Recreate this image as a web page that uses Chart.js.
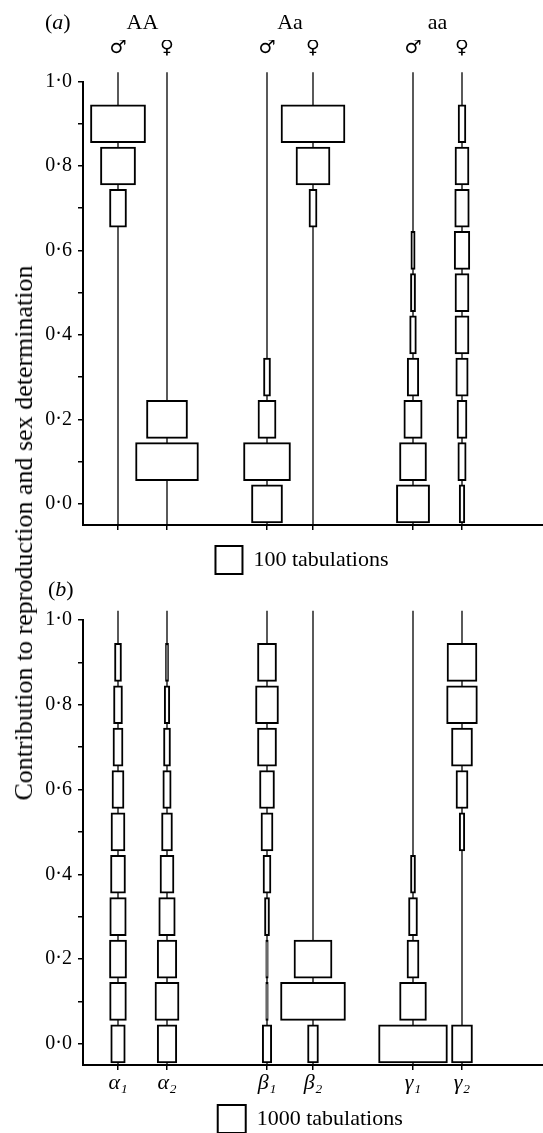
<!DOCTYPE html>
<html>
<head>
<meta charset="utf-8">
<script src="https://cdn.jsdelivr.net/npm/chart.js@4.4.0/dist/chart.umd.min.js"></script>
<style>
html, body { margin: 0; padding: 0; overflow: hidden; background: #fff; }
#wrap { position: relative; width: 543px; height: 1133px; font-family: "Liberation Serif", serif; color: #000; }
#boxA { position: absolute; left: 0; top: 0; width: 543px; height: 584px; }
#boxB { position: absolute; left: 0; top: 584px; width: 543px; height: 559px; }
.tag { position: absolute; font-size: 22px; line-height: 22px; }
#ytitle { position: absolute; left: 24px; top: 533px; font-size: 26px; white-space: nowrap;
          transform: translate(-50%, -50%) rotate(-90deg); }
</style>
</head>
<body>
<div id="wrap">
  <div id="boxA"><canvas id="chartA"></canvas></div>
  <div id="boxB"><canvas id="chartB"></canvas></div>
  <div class="tag" style="left:45px;top:11px">(<i>a</i>)</div>
  <div class="tag" style="left:48px;top:578px">(<i>b</i>)</div>
  <div id="ytitle">Contribution to reproduction and sex determination</div>
</div>
<script>
// contribution classes, one box per class
const bins = [0, 0.1, 0.2, 0.3, 0.4, 0.5, 0.6, 0.7, 0.8, 0.9];

// (a) tabulations per class for each genotype / sex
const AAmale   = [0, 0, 0, 0, 0, 0, 0, 63, 130, 204];
const AAfemale = [0, 233, 152, 0, 0, 0, 0, 0, 0, 0];
const Aamale   = [115, 174, 67, 26, 0, 0, 0, 0, 0, 0];
const Aafemale = [0, 0, 0, 0, 0, 0, 0, 30, 126, 237];
const aamale   = [123, 100, 68, 43, 25, 19, 16, 0, 0, 0];
const aafemale = [21, 31, 37, 46, 52, 52, 58, 54, 52, 29];
const sexLabels = ['♂', '♀', '♂', '♀', '♂', '♀'];
const genotypes = ['AA', 'Aa', 'aa'];

// (b) tabulations per class for each parameter
const alpha1 = [520, 600, 610, 590, 535, 500, 430, 360, 320, 250];
const alpha2 = [700, 860, 700, 590, 500, 390, 300, 250, 200, 110];
const beta1  = [340, 90, 90, 180, 285, 430, 535, 680, 820, 680];
const beta2  = [390, 2320, 1360, 0, 0, 0, 0, 0, 0, 0];
const gamma1 = [2460, 960, 430, 320, 180, 0, 0, 0, 0, 0];
const gamma2 = [750, 0, 0, 0, 0, 200, 430, 750, 1100, 1070];
const paramLabels = ['α₁', 'α₂', 'β₁', 'β₂', 'γ₁', 'γ₂'];

Chart.defaults.font.family = 'Liberation Serif';
Chart.defaults.color = '#000';

// layout
const plotW = 460;                          // px from y axis to right edge
const colPx = [35, 84, 184, 230, 330, 379]; // column stems, px from y axis

function topAxis(xMax, at, labels, font, pad, h, weight) {
    return {
        type: 'linear', position: 'top', min: 0, max: xMax, weight: weight,
        grid: { display: false, drawTicks: false },
        border: { display: false },
        ticks: { autoSkip: false, maxRotation: 0, padding: pad, font: font, color: '#000',
                 callback: (v, i) => labels[i] },
        afterBuildTicks: s => { s.ticks = at.map(v => ({ value: v })); },
        afterFit: s => { s.height = h; }
    };
}

function makeChart(id, o) {
    const perPx = o.tabPerPx;
    const xMax = plotW * perPx;
    const centers = colPx.map(p => p * perPx);

    const boxes = [];
    o.columns.forEach((counts, c) => {
        counts.forEach((n, i) => {
            if (n > 0) boxes.push({ y: bins[i], x: [centers[c] - n / 2, centers[c] + n / 2] });
        });
    });

    const stems = centers.map(c => ({
        type: 'line',
        data: [{ x: c, y: -0.05 }, { x: c, y: 1.022 }],
        borderColor: '#000', borderWidth: 1.3,
        pointRadius: 0, clip: false, order: 1
    }));

    const scales = {
        x: {
            type: 'linear', position: 'bottom', min: 0, max: xMax,
            border: { color: '#000', width: 2 },
            grid: { drawOnChartArea: false, tickLength: 5, color: '#000', lineWidth: 1.5 },
            ticks: { autoSkip: false, maxRotation: 0, padding: 0, color: '#000',
                     font: { size: 22, style: 'italic' },
                     callback: (v, i) => o.bottomLabels[i] },
            afterBuildTicks: s => { s.ticks = centers.map(v => ({ value: v })); },
            afterFit: s => { s.height = o.bottomH; }
        },
        y: {
            type: 'linear', min: -0.05, max: 1.0, offset: false,
            border: { color: '#000', width: 2 },
            grid: { offset: false, drawOnChartArea: false, tickLength: 5, color: '#000', lineWidth: 1.5 },
            ticks: {
                stepSize: 0.1, includeBounds: false, autoSkip: false, padding: 6,
                font: { size: 20 }, color: '#000',
                callback: v => Math.round(v * 10) % 2 === 0 ? v.toFixed(1).replace('.', '·') : ''
            },
            afterFit: s => { s.width = 83; }
        }
    };
    if (o.top) {
        const groupAt = [0, 1, 2].map(g => (centers[2 * g] + centers[2 * g + 1]) / 2);
        scales.x3 = topAxis(xMax, groupAt, genotypes, { size: 22 }, 4, 40, 2);
        scales.x2 = topAxis(xMax, centers, sexLabels, { family: 'DejaVu Sans', size: 19 }, 22, 41.5, 1);
    }

    return new Chart(document.getElementById(id), {
        type: 'bar',
        data: {
            datasets: [{
                label: o.legend,
                data: boxes,
                backgroundColor: '#fff',
                borderColor: '#000',
                borderWidth: 2,
                borderSkipped: false,
                barThickness: 38,
                order: 0
            }].concat(stems)
        },
        options: {
            indexAxis: 'y',
            responsive: true,
            maintainAspectRatio: false,
            animation: false,
            events: [],
            layout: { padding: { left: 0, top: o.padTop, right: 0, bottom: 0 } },
            scales: scales,
            plugins: {
                tooltip: { enabled: false },
                legend: {
                    position: 'bottom',
                    fullSize: false,
                    labels: {
                        boxWidth: o.legendTabs / perPx, boxHeight: 28, padding: 9,
                        font: { size: 22 }, color: '#000',
                        filter: item => item.datasetIndex === 0
                    }
                }
            }
        }
    });
}

makeChart('chartA', {
    columns: [AAmale, AAfemale, Aamale, Aafemale, aamale, aafemale],
    tabPerPx: 100 / 27, legendTabs: 100,
    legend: '100 tabulations\u00a0\u00a0\u00a0\u00a0',
    bottomLabels: ['', '', '', '', '', ''], bottomH: 12,
    padTop: 0, top: true
});

makeChart('chartB', {
    columns: [alpha1, alpha2, beta1, beta2, gamma1, gamma2],
    tabPerPx: 1000 / 28, legendTabs: 1000,
    legend: '1000 tabulations\u00a0',
    bottomLabels: paramLabels, bottomH: 31,
    padTop: 36, top: false
});
</script>
</body>
</html>
